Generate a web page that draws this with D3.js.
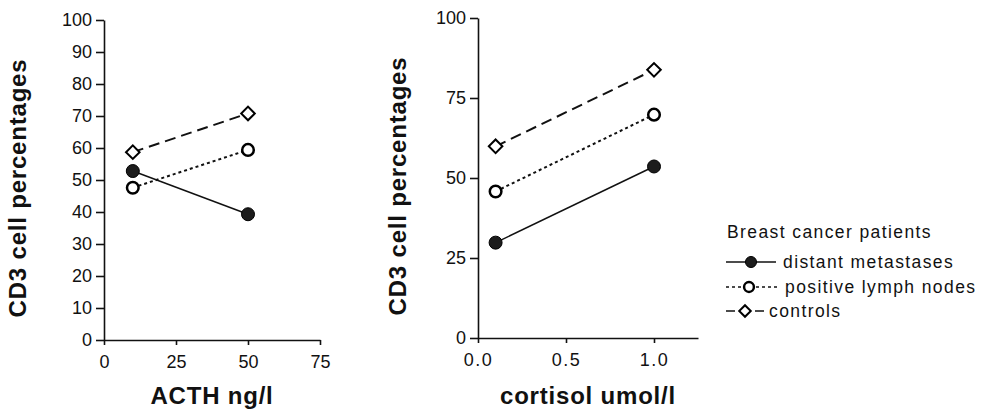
<!DOCTYPE html>
<meta charset="utf-8">
<html>
<head>
<style>
  body { margin: 0; background: #fff; }
  svg text { font-family: "Liberation Sans", Arial, Helvetica, sans-serif; fill: #111; }
  .axis path, .axis line { stroke: #111; stroke-width: 1.6; }
  .axis text { font-size: 18px; }
  .title { font-size: 24px; font-weight: bold; letter-spacing: 0.8px; }
  .legend text { font-size: 17.5px; letter-spacing: 1.4px; }
</style>
</head>
<body>
<div id="chart"></div>
<script src="https://d3js.org/d3.v7.min.js"></script>
<script>

// ACTH panel (ng/l)
var acthX = [10, 50];
var acthMetastases = [52.8, 39.3];
var acthLymph = [47.6, 59.4];
var acthControls = [58.7, 70.8];
var acthTicksX = [0, 25, 50, 75];
var acthTicksY = [0, 10, 20, 30, 40, 50, 60, 70, 80, 90, 100];

// cortisol panel (umol/l)
var cortX = [0.1, 1.0];
var cortMetastases = [29.8, 53.6];
var cortLymph = [45.8, 69.8];
var cortControls = [59.9, 83.8];
var cortTicksX = [0, 0.5, 1.0];
var cortTicksY = [0, 25, 50, 75, 100];

var groups = ["distant metastases", "positive lymph nodes", "controls"];
var legendTitle = "Breast cancer patients";

var width = 986, height = 419;

var svg = d3.select("#chart")
  .append("svg")
    .attr("width", width)
    .attr("height", height);

// line styles per group
var styles = {
  "distant metastases":   {dash: null,    width: 1.5, marker: "filled"},
  "positive lymph nodes": {dash: "3,3",   width: 2,   marker: "open"},
  "controls":             {dash: "11,6",  width: 2,   marker: "diamond"}
};

function drawMarker(g, kind, cx, cy, scale) {
  scale = scale || 1;
  if (kind === "filled") {
    g.append("circle").attr("cx", cx).attr("cy", cy).attr("r", 6.5 * scale)
      .attr("fill", "#1c1c1c").attr("stroke", "#000").attr("stroke-width", 1);
  } else if (kind === "open") {
    g.append("circle").attr("cx", cx).attr("cy", cy).attr("r", 5.8 * scale)
      .attr("fill", "#fff").attr("stroke", "#000").attr("stroke-width", 2.5);
  } else {
    g.append("path")
      .attr("d", d3.symbol().type(d3.symbolSquare).size(92 * scale * scale)())
      .attr("transform", "translate(" + cx + "," + cy + ") rotate(45)")
      .attr("fill", "#fff").attr("stroke", "#000").attr("stroke-width", 2);
  }
}

function panel(opts) {
  var x = d3.scaleLinear().domain(opts.xDomain).range(opts.xRange);
  var y = d3.scaleLinear().domain([0, 100]).range(opts.yRange);
  var g = svg.append("g");

  g.append("g")
    .attr("class", "axis")
    .attr("transform", "translate(0," + opts.yRange[0] + ")")
    .call(d3.axisBottom(x).tickValues(opts.ticksX).tickSize(5).tickPadding(10)
      .tickFormat(opts.fmtX).tickSizeOuter(0))
    .selectAll("text").style("letter-spacing", opts.xSpacing + "px");

  g.append("g")
    .attr("class", "axis")
    .attr("transform", "translate(" + opts.xRange[0] + ",0)")
    .call(d3.axisLeft(y).tickValues(opts.ticksY).tickSize(8).tickPadding(4).tickSizeOuter(0));

  var line = d3.line()
    .x(function(d) { return x(d[0]); })
    .y(function(d) { return y(d[1]); });

  opts.series.forEach(function(vals, i) {
    var st = styles[groups[i]];
    var pts = opts.xs.map(function(v, j) { return [v, vals[j]]; });
    g.append("path")
      .datum(pts)
      .attr("d", line)
      .attr("fill", "none")
      .attr("stroke", "#111")
      .attr("stroke-width", st.width)
      .attr("stroke-dasharray", st.dash);
  });
  // markers on top of all lines
  opts.series.forEach(function(vals, i) {
    var st = styles[groups[i]];
    opts.xs.forEach(function(v, j) {
      drawMarker(g, st.marker, x(v), y(vals[j]));
    });
  });

  g.append("text")
    .attr("class", "title")
    .attr("text-anchor", "middle")
    .attr("transform", "translate(" + opts.yTitleX + "," + opts.yTitleY + ") rotate(-90)")
    .text("CD3 cell percentages");

  g.append("text")
    .attr("class", "title")
    .attr("text-anchor", "middle")
    .attr("x", opts.xTitleX)
    .attr("y", 404)
    .text(opts.xTitle);
}

panel({
  xDomain: [0, 75], xRange: [104, 320], yRange: [340, 20],
  ticksX: acthTicksX, ticksY: acthTicksY, fmtX: d3.format("d"), xSpacing: 0,
  xs: acthX, series: [acthMetastases, acthLymph, acthControls],
  yTitleX: 26, yTitleY: 188, xTitle: "ACTH ng/l", xTitleX: 212
});

panel({
  xDomain: [0, 1.25], xRange: [478, 698], yRange: [338, 18],
  ticksX: cortTicksX, ticksY: cortTicksY, fmtX: d3.format(".1f"), xSpacing: 1.5,
  xs: cortX, series: [cortMetastases, cortLymph, cortControls],
  yTitleX: 406, yTitleY: 186, xTitle: "cortisol umol/l", xTitleX: 588
});

// legend
var legend = svg.append("g").attr("class", "legend");
legend.append("text").attr("x", 727).attr("y", 238).text(legendTitle);

var legendRows = [
  {y: 262, x1: 726, x2: 776, mx: 751, tx: 783},
  {y: 287, x1: 726, x2: 777, mx: 749, tx: 785},
  {y: 311, x1: 726, x2: 764, mx: 745, tx: 769}
];
groups.forEach(function(name, i) {
  var r = legendRows[i], st = styles[name];
  legend.append("line")
    .attr("x1", r.x1).attr("x2", r.x2).attr("y1", r.y).attr("y2", r.y)
    .attr("stroke", "#111").attr("stroke-width", 1.5)
    .attr("stroke-dasharray", i === 0 ? null : (i === 1 ? "3,3" : "9,20,9"));
  drawMarker(legend, st.marker, r.mx, r.y, 0.85);
  legend.append("text").attr("x", r.tx).attr("y", r.y + 6).text(name);
});

</script>
</body>
</html>
